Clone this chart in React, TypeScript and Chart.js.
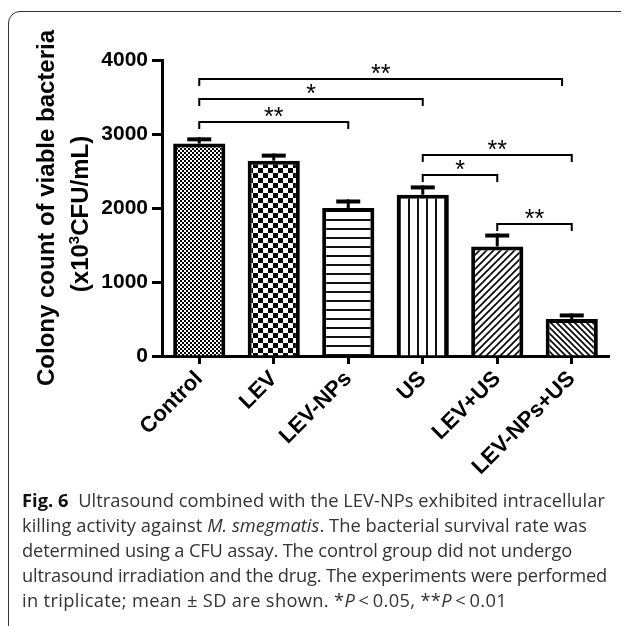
import React, { useEffect, useLayoutEffect, useRef } from "react";
import { Chart, registerables } from "chart.js";

Chart.register(...registerables);

const categories = ["Control", "LEV", "LEV-NPs", "US", "LEV+US", "LEV-NPs+US"];
const means = [2870, 2640, 2000, 2180, 1480, 500];
const sds = [85, 95, 115, 125, 175, 75];
const yTickValues = [0, 1000, 2000, 3000, 4000];
const yTitleLine1 = "Colony count of viable bacteria";
const yTitleLine2 = ["(x10", "3", "CFU/mL)"];
const patternKinds = ["fineCheck", "bigCheck", "hLines", "vLines", "diagUp", "diagDown"];

// significance brackets
const bracketFrom = [0, 0, 0, 3, 3, 4];
const bracketTo = [2, 3, 4.87, 5, 4, 5];
const bracketLevel = [3160, 3470, 3740, 2710, 2440, 1790];
const bracketLabel = ["**", "*", "**", "**", "*", "**"];

// caption line widths (px) as laid out in the figure
const captionWidths = [583, 565, 550, 585, 485];

const OFFSET = 8; // page offset of the canvas

function makePattern(ctxRef: CanvasRenderingContext2D, kind: string): CanvasPattern | string {
  const c = document.createElement("canvas");
  const g = c.getContext("2d")!;
  let s = 8;
  if (kind === "fineCheck") {
    s = 4;
    c.width = s; c.height = s;
    g.fillStyle = "#fff"; g.fillRect(0, 0, s, s);
    g.fillStyle = "#000"; g.fillRect(0, 0, 2, 2); g.fillRect(2, 2, 2, 2);
  } else if (kind === "bigCheck") {
    s = 10;
    c.width = s; c.height = s;
    g.fillStyle = "#fff"; g.fillRect(0, 0, s, s);
    g.fillStyle = "#000"; g.fillRect(0, 0, 5, 5); g.fillRect(5, 5, 5, 5);
  } else if (kind === "hLines") {
    s = 9;
    c.width = s; c.height = s;
    g.fillStyle = "#fff"; g.fillRect(0, 0, s, s);
    g.fillStyle = "#111"; g.fillRect(0, 4, s, 2);
  } else if (kind === "vLines") {
    s = 9;
    c.width = s; c.height = s;
    g.fillStyle = "#fff"; g.fillRect(0, 0, s, s);
    g.fillStyle = "#111"; g.fillRect(4, 0, 2, s);
  } else if (kind === "diagUp" || kind === "diagDown") {
    s = kind === "diagUp" ? 7 : 6;
    c.width = s; c.height = s;
    g.fillStyle = "#fff"; g.fillRect(0, 0, s, s);
    g.strokeStyle = "#000"; g.lineWidth = 1.6;
    g.beginPath();
    if (kind === "diagUp") {
      g.moveTo(-1, s + 1); g.lineTo(s + 1, -1);
      g.moveTo(-1, 1); g.lineTo(1, -1);
      g.moveTo(s - 1, s + 1); g.lineTo(s + 1, s - 1);
    } else {
      g.moveTo(-1, -1); g.lineTo(s + 1, s + 1);
      g.moveTo(-1, s - 1); g.lineTo(1, s + 1);
      g.moveTo(s - 1, -1); g.lineTo(s + 1, 1);
    }
    g.stroke();
  }
  return ctxRef.createPattern(c, "repeat") || "#888";
}

const overlayPlugin = {
  id: "overlay",
  afterDatasetsDraw(chart: any) {
    const ctx: CanvasRenderingContext2D = chart.ctx;
    const xs = chart.scales.x;
    const ys = chart.scales.y;
    const meta = chart.getDatasetMeta(0);
    ctx.save();
    ctx.fillStyle = "#000";
    ctx.strokeStyle = "#000";
    // error bars (upper only)
    means.forEach((m, i) => {
      const cx = meta.data[i].x;
      const top = ys.getPixelForValue(m);
      const err = ys.getPixelForValue(m + sds[i]);
      ctx.lineWidth = 3;
      ctx.beginPath();
      ctx.moveTo(cx, top);
      ctx.lineTo(cx, err);
      ctx.stroke();
      ctx.fillRect(cx - 12, err, 24, 4);
    });
    // significance brackets
    ctx.lineWidth = 2;
    ctx.font = "25px 'Liberation Sans', Arial, sans-serif";
    ctx.textAlign = "center";
    ctx.textBaseline = "alphabetic";
    bracketFrom.forEach((f, k) => {
      const x1 = xs.getPixelForValue(f);
      const x2 = xs.getPixelForValue(bracketTo[k]);
      const by = Math.round(ys.getPixelForValue(bracketLevel[k]));
      ctx.beginPath();
      ctx.moveTo(x1, by + 7);
      ctx.lineTo(x1, by);
      ctx.lineTo(x2, by);
      ctx.lineTo(x2, by + 7);
      ctx.stroke();
      ctx.fillText(bracketLabel[k], (x1 + x2) / 2, by + 3);
    });
    // y axis title
    const cy = (chart.chartArea.top + chart.chartArea.bottom) / 2;
    const mainFont = "bold 24px 'Liberation Sans', Arial, sans-serif";
    const supFont = "bold 15px 'Liberation Sans', Arial, sans-serif";
    ctx.font = mainFont;
    ctx.textAlign = "center";
    ctx.save();
    ctx.translate(54 - OFFSET, cy);
    ctx.rotate(-Math.PI / 2);
    ctx.fillText(yTitleLine1, 0, 0);
    ctx.restore();
    // second line with superscript
    ctx.save();
    ctx.translate(88 - OFFSET, cy + 6);
    ctx.rotate(-Math.PI / 2);
    ctx.textAlign = "left";
    ctx.font = mainFont;
    const w0 = ctx.measureText(yTitleLine2[0]).width;
    const w2 = ctx.measureText(yTitleLine2[2]).width;
    ctx.font = supFont;
    const w1 = ctx.measureText(yTitleLine2[1]).width;
    let px = -(w0 + w1 + w2) / 2;
    ctx.font = mainFont;
    ctx.fillText(yTitleLine2[0], px, 0);
    px += w0;
    ctx.font = supFont;
    ctx.fillText(yTitleLine2[1], px, -9);
    px += w1;
    ctx.font = mainFont;
    ctx.fillText(yTitleLine2[2], px, 0);
    ctx.restore();
    ctx.restore();
  },
};

export default function App() {
  const canvasRef = useRef<HTMLCanvasElement | null>(null);
  const lineRefs = useRef<(HTMLDivElement | null)[]>([]);

  useLayoutEffect(() => {
    lineRefs.current.forEach((el, i) => {
      if (!el) return;
      const span = el.firstElementChild as HTMLElement | null;
      if (!span) return;
      span.style.letterSpacing = "0px";
      const w = span.getBoundingClientRect().width;
      const n = (span.textContent || "").length;
      if (n > 1) {
        const ls = (captionWidths[i] - w) / n;
        span.style.letterSpacing = ls.toFixed(3) + "px";
      }
    });
  }, []);

  useEffect(() => {
    const canvas = canvasRef.current!;
    const ctx = canvas.getContext("2d")!;
    const patterns = patternKinds.map((k) => makePattern(ctx, k));
    const tickFont = { family: "'Liberation Sans', Arial, sans-serif", weight: "bold" as const, size: 21 };
    const chart = new Chart(canvas, {
      type: "bar",
      data: {
        labels: categories,
        datasets: [
          {
            data: means,
            backgroundColor: patterns as any,
            borderColor: "#000",
            borderWidth: 4,
            barPercentage: 0.7,
            categoryPercentage: 1,
          },
        ],
      },
      options: {
        responsive: false,
        animation: false,
        devicePixelRatio: 1,
        layout: { padding: { top: 52, right: 20, left: 0, bottom: 0 } },
        plugins: {
          legend: { display: false },
          tooltip: { enabled: false },
          title: { display: false },
        },
        scales: {
          x: {
            grid: {
              display: true,
              drawOnChartArea: false,
              offset: false,
              tickLength: 8,
              tickWidth: 3,
              tickColor: "#000",
            },
            border: { display: true, width: 3, color: "#000" },
            ticks: {
              minRotation: 45,
              maxRotation: 45,
              color: "#000",
              font: { ...tickFont, size: 22 },
              padding: 2,
            },
            afterFit: (s: any) => {
              s.height = 480 - 348;
            },
          },
          y: {
            min: 0,
            max: 4000,
            afterBuildTicks: (s: any) => {
              s.ticks = yTickValues.map((v) => ({ value: v }));
            },
            grid: {
              display: true,
              drawOnChartArea: false,
              tickLength: 10,
              tickWidth: 3,
              tickColor: "#000",
            },
            border: { display: true, width: 3, color: "#000" },
            ticks: {
              color: "#000",
              font: tickFont,
              padding: 4,
              callback: (v: any) => String(v),
            },
            afterFit: (s: any) => {
              s.width = 162 - OFFSET;
            },
          },
        },
      },
      plugins: [overlayPlugin],
    });
    return () => chart.destroy();
  }, []);

  const captionLine: React.CSSProperties = { whiteSpace: "nowrap" };
  const setRef = (i: number) => (el: HTMLDivElement | null) => {
    lineRefs.current[i] = el;
  };

  return (
    <div style={{ position: "relative", width: 621, height: 618, overflow: "hidden" }}>
      <div
        style={{
          position: "absolute",
          left: 0,
          top: 3,
          width: 660,
          height: 640,
          border: "1.5px solid #333",
          borderRadius: 12,
          boxSizing: "border-box",
        }}
      />
      <canvas
        ref={canvasRef}
        width={621}
        height={480}
        style={{ position: "absolute", left: 0, top: 0, width: 621, height: 480 }}
      />
      <div
        style={{
          position: "absolute",
          left: 14,
          top: 479,
          fontFamily: "'Open Sans', 'Noto Sans', sans-serif",
          fontSize: 18.3,
          lineHeight: "25px",
          color: "#333",
        }}
      >
        <div ref={setRef(0)} style={captionLine}>
          <span>
            <b style={{ color: "#111" }}>Fig. 6</b>&nbsp; Ultrasound combined with the LEV-NPs exhibited intracellular
          </span>
        </div>
        <div ref={setRef(1)} style={captionLine}>
          <span>
            killing activity against <i>M. smegmatis</i>. The bacterial survival rate was
          </span>
        </div>
        <div ref={setRef(2)} style={captionLine}>
          <span>determined using a CFU assay. The control group did not undergo</span>
        </div>
        <div ref={setRef(3)} style={captionLine}>
          <span>ultrasound irradiation and the drug. The experiments were performed</span>
        </div>
        <div ref={setRef(4)} style={captionLine}>
          <span>
            in triplicate; mean ± SD are shown. *<i>P</i>&thinsp;&lt;&thinsp;0.05, **<i>P</i>&thinsp;&lt;&thinsp;0.01
          </span>
        </div>
      </div>
    </div>
  );
}
